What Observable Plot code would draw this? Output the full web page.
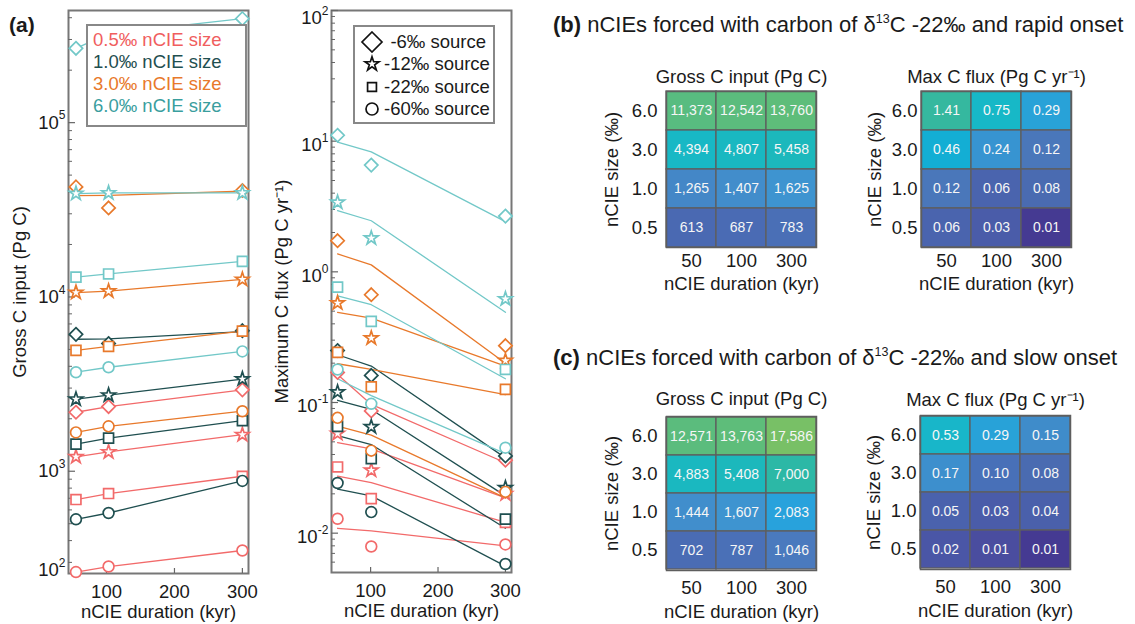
<!DOCTYPE html>
<html><head><meta charset="utf-8">
<script src="https://cdn.jsdelivr.net/npm/d3@7"></script>
<script src="https://cdn.jsdelivr.net/npm/@observablehq/plot@0.6"></script>
<style>
body{margin:0;background:#fff;}
#root{position:relative;width:1135px;height:624px;overflow:hidden;font-family:"Liberation Sans",Arial,sans-serif;color:#1a1a1a;background:#fff;}
.ptitle{position:absolute;font-size:22px;line-height:26px;white-space:nowrap;}
.ptitle sup{font-size:12.5px;vertical-align:9px;line-height:0;}
</style></head><body><div id="root"></div>
<script>
// ---------- data ----------
const sizeKeys = ["0.5", "1.0", "3.0", "6.0"];
const srcKeys = ["-6", "-12", "-22", "-60"];
const durA = [55, 103, 300];
const durB = [51, 101, 300];
const xTicks = [100, 200, 300];

// Gross C input (Pg C): rows = sources -6, -12, -22, -60; cols = durations
const gross05 = [[2180, 2350, 2930], [1210, 1290, 1620], [688, 745, 936], [264, 284, 351]];
const gross10 = [[6100, 5400, 6400], [2590, 2730, 3380], [1430, 1550, 1950], [530, 576, 880]];
const gross30 = [[42800, 32400, 40800], [10600, 10800, 12600], [4940, 5200, 6370], [1670, 1810, 2210]];
const gross60 = [[267000, 324000, 395000], [39200, 39500, 39500], [13000, 13550, 16000], [3700, 3950, 4870]];
const grossLine05 = [[2180, 2350, 2930], [1210, 1290, 1620], [688, 745, 936], [264, 284, 351]];
const grossLine10 = [[5720, 5750, 6320], [2590, 2730, 3380], [1430, 1550, 1950], [530, 576, 880]];
const grossLine30 = [[38100, 38300, 40400], [10600, 10800, 12600], [4940, 5200, 6370], [1670, 1810, 2210]];
const grossLine60 = [[267000, 324000, 395000], [39200, 39500, 39500], [13000, 13550, 16000], [3700, 3950, 4870]];

// Maximum C flux (Pg C / yr)
const flux05 = [[0.17, 0.0862, 0.0362], [0.0579, 0.0303, 0.020], [0.0321, 0.0184, 0.0121], [0.0129, 0.0079, 0.0082]];
const flux10 = [[0.25, 0.161, 0.039], [0.12, 0.0651, 0.0222], [0.0656, 0.0372, 0.0128], [0.0242, 0.0145, 0.00581]];
const flux30 = [[1.73, 0.668, 0.272], [0.577, 0.311, 0.209], [0.242, 0.132, 0.126], [0.0763, 0.0428, 0.0207]];
const flux60 = [[11.1, 6.56, 2.67], [3.40, 1.81, 0.62], [0.764, 0.418, 0.179], [0.179, 0.0977, 0.0451]];
const fluxLine05 = [[0.164, 0.0967, 0.0346], [0.0493, 0.0442, 0.0186], [0.0273, 0.0244, 0.0121], [0.0109, 0.0104, 0.0080]];
const fluxLine10 = [[0.232, 0.19, 0.0377], [0.104, 0.0884, 0.0193], [0.0559, 0.0477, 0.0109], [0.0217, 0.0193, 0.0056]];
const fluxLine30 = [[1.37, 1.13, 0.20], [0.49, 0.443, 0.19], [0.198, 0.179, 0.115], [0.0659, 0.0563, 0.0186]];
const fluxLine60 = [[9.85, 8.28, 2.42], [2.94, 2.46, 0.49], [0.656, 0.56, 0.152], [0.152, 0.113, 0.0406]];

// axis tick labels
const grossTickVals = [270, 1e3, 1e4, 1e5];
const grossTickExp = ["2", "3", "4", "5"];
const fluxTickVals = [0.01, 0.1, 1, 10, 100];
const fluxTickExp = ["-2", "-1", "0", "1", "2"];

// heatmaps
const durLabels = ["50", "100", "300"];
const sizeLabels = ["6.0", "3.0", "1.0", "0.5"];
const grossRapid = [[11373, 12542, 13760], [4394, 4807, 5458], [1265, 1407, 1625], [613, 687, 783]];
const fluxRapid = [[1.41, 0.75, 0.29], [0.46, 0.24, 0.12], [0.12, 0.06, 0.08], [0.06, 0.03, 0.007]];
const grossSlow = [[12571, 13763, 17586], [4883, 5408, 7000], [1444, 1607, 2083], [702, 787, 1046]];
const fluxSlow = [[0.53, 0.29, 0.15], [0.17, 0.10, 0.08], [0.05, 0.03, 0.04], [0.02, 0.012, 0.007]];

// ---------- styles ----------
const FONT = '"Liberation Sans", Arial, sans-serif';
const sizeColors = ["#f26a6a", "#1f4f50", "#e8792b", "#72c8c8"];
const sizeTextColors = ["#f05e5e", "#1f4f50", "#e8792b", "#3a9e9e"];
const srcSymbols = ["diamond2", "star", "square", "circle"];
const srcR = [6, 4.3, 5.6, 5.4];
const grossStops = [[0, "#4a66b0"], [0.09, "#4a6cb4"], [0.19, "#4a7abe"], [0.24, "#4488c8"], [0.30, "#3e94d0"], [0.365, "#28a2dc"], [0.45, "#16b0d4"], [0.56, "#18b8c4"], [0.61, "#1cb8bc"], [0.675, "#2cb8a6"], [0.8, "#58bc80"], [0.85, "#5ebd7a"], [0.91, "#78c066"], [1, "#90c45a"]];
const fluxStops = [[0, "#433890"], [0.06, "#453a92"], [0.14, "#4a4ea0"], [0.22, "#4a56a6"], [0.3, "#4a5eaa"], [0.39, "#4a64ae"], [0.44, "#4a6cb2"], [0.47, "#4870b8"], [0.5, "#4a78ba"], [0.535, "#3e8ecc"], [0.6, "#3a92d0"], [0.635, "#28a2d8"], [0.7, "#12acd8"], [0.73, "#18b6c8"], [0.78, "#16b8c8"], [0.88, "#34b8a0"], [1, "#5cbc80"]];

function stopsInterp(stops) {
  const s = d3.scaleLinear().domain(stops.map(d => d[0])).range(stops.map(d => d[1])).interpolate(d3.interpolateRgb).clamp(true);
  return t => s(t);
}

function tidy(pts, lines, dur) {
  const rows = [];
  sizeKeys.forEach((s, i) => srcKeys.forEach((src, j) => dur.forEach((d, k) => rows.push({
    size: s, src, key: s + "|" + src, dur: d, v: pts[i][j][k], lv: lines[i][j][k]
  }))));
  return rows;
}

function minorTicks(lo, hi) {
  const out = [];
  for (let e = Math.floor(Math.log10(lo)); e <= Math.ceil(Math.log10(hi)); e++)
    for (let m = 2; m <= 9; m++) { const v = m * Math.pow(10, e); if (v > lo && v < hi) out.push(v); }
  return out;
}
function majorTicks(lo, hi) {
  const out = [];
  for (let e = Math.floor(Math.log10(lo)); e <= Math.ceil(Math.log10(hi)); e++) { const v = Math.pow(10, e); if (v >= lo && v <= hi) out.push(v); }
  return out;
}
// approximate width of exponent text at 12px
const expWidth = s => [...s].reduce((a, c) => a + (c === "-" ? 4.2 : 6.7), 0);

function linePlot(o) {
  const innerW = o.w - o.ml - o.mr, innerH = o.h - o.mt - o.mb;
  return Plot.plot({
    width: o.w, height: o.h, marginLeft: o.ml, marginRight: o.mr, marginTop: o.mt, marginBottom: o.mb,
    style: {fontSize: "18.5px", fontFamily: FONT, background: "transparent", overflow: "visible", color: "#1a1a1a"},
    x: {domain: o.xDomain, ticks: xTicks, tickSize: 0, tickPadding: 11, label: null, tickFormat: d => String(d)},
    y: {type: "log", domain: o.yDomain, axis: null},
    color: {domain: sizeKeys, range: sizeColors},
    marks: [
      Plot.frame({stroke: "#777", strokeWidth: 2}),
      Plot.tickY(minorTicks(o.yDomain[0], o.yDomain[1]), {y: d => d, stroke: "#666", strokeWidth: 1, insetRight: innerW - 4}),
      Plot.tickY(majorTicks(o.yDomain[0], o.yDomain[1]), {y: d => d, stroke: "#666", strokeWidth: 1.2, insetRight: innerW - 7}),
      Plot.tickX(xTicks, {x: d => d, stroke: "#666", strokeWidth: 1.2, insetTop: innerH - 5}),
      ...o.tickVals.map((v, i) => Plot.text([v], {y: d => d, text: () => "10", frameAnchor: "left", textAnchor: "end", lineAnchor: "middle",
        dx: o.expEnd - expWidth(o.tickExp[i]), dy: o.labDy + (i === o.tickVals.length - 1 ? o.topExtra : 0)})),
      ...o.tickVals.map((v, i) => Plot.text([v], {y: d => d, text: () => o.tickExp[i], frameAnchor: "left", textAnchor: "end", lineAnchor: "middle",
        dx: o.expEnd, dy: o.labDy - 7 + (i === o.tickVals.length - 1 ? o.topExtra : 0), fontSize: 12})),
      Plot.text([o.ylabel], {frameAnchor: "left", textAnchor: "middle", lineAnchor: "middle", rotate: -90, dx: o.ylabDx}),
      Plot.text(["nCIE duration (kyr)"], {frameAnchor: "bottom", textAnchor: "middle", lineAnchor: "middle", dy: 39}),
      Plot.line(o.rows, {x: "dur", y: "lv", z: "key", stroke: "size", strokeWidth: 1.3}),
      ...srcKeys.map((src, j) => Plot.dot(o.rows, {
        filter: d => d.src === src, x: "dur", y: "v", stroke: "size", fill: "white",
        symbol: srcSymbols[j], r: srcR[j], strokeWidth: 1.7
      }))
    ]
  });
}

function heatmap(o) {
  const rows = sizeLabels.flatMap((s, i) => durLabels.map((d, k) => ({size: s, dur: d, v: o.vals[i][k]})));
  return Plot.plot({
    width: 250, height: 40 + o.ch + 50, marginLeft: 80, marginRight: 20, marginTop: 40, marginBottom: 50,
    style: {fontSize: "18.5px", fontFamily: FONT, background: "transparent", overflow: "visible", color: "#1a1a1a"},
    x: {domain: durLabels, padding: 0, tickSize: 0, tickPadding: o.xPad, label: null},
    y: {domain: sizeLabels, padding: 0, tickSize: 0, tickPadding: o.yPad, label: null},
    color: o.color,
    marks: [
      Plot.cell(rows, {x: "dur", y: "size", fill: "v", stroke: "#5e5e5e", strokeWidth: 1.3, inset: 0}),
      Plot.frame({stroke: "#5e5e5e", strokeWidth: 1.5}),
      Plot.text(rows, {x: "dur", y: "size", text: d => o.fmt(d.v), fill: "#f6f6f6", fontSize: 14}),
      Plot.text([o.title], {frameAnchor: "top", textAnchor: "middle", lineAnchor: "middle", dy: o.titleDy}),
      Plot.text(["nCIE duration (kyr)"], {frameAnchor: "bottom", textAnchor: "middle", lineAnchor: "middle", dy: o.xlabDy}),
      Plot.text(["nCIE size (‰)"], {frameAnchor: "left", textAnchor: "middle", lineAnchor: "middle", rotate: -90, dx: o.ylabDx})
    ]
  });
}

const root = document.getElementById("root");
function place(el, left, top) { el.style.position = "absolute"; el.style.left = left + "px"; el.style.top = top + "px"; root.appendChild(el); return el; }

// panel (a) plots
place(linePlot({
  rows: tidy([gross05, gross10, gross30, gross60], [grossLine05, grossLine10, grossLine30, grossLine60], durA),
  w: 262, h: 624, ml: 68, mr: 14, mt: 10, mb: 51,
  xDomain: [44, 309], yDomain: [259, 4.4e5],
  tickVals: grossTickVals, tickExp: grossTickExp, expEnd: -3, labDy: 0, topExtra: 0,
  ylabel: "Gross C input (Pg C)", ylabDx: -48
}), 0, 0);

place(linePlot({
  rows: tidy([flux05, flux10, flux30, flux60], [fluxLine05, fluxLine10, fluxLine30, fluxLine60], durB),
  w: 262, h: 624, ml: 69, mr: 13, mt: 10, mb: 52,
  xDomain: [42, 309], yDomain: [0.005, 100],
  tickVals: fluxTickVals, tickExp: fluxTickExp, expEnd: -3, labDy: 4, topExtra: 4,
  ylabel: "Maximum C flux (Pg C yr⁻¹)", ylabDx: -49
}), 262, 0);

// (a) label
const aLab = document.createElement("div");
aLab.innerHTML = "<b>(a)</b>"; aLab.style.fontSize = "21px"; aLab.style.lineHeight = "26px";
place(aLab, 9, 12);

// legend for sizes
const leg1 = document.createElement("div");
Object.assign(leg1.style, {border: "2px solid #888", background: "#fff", padding: "3px 0 0 5px", boxSizing: "content-box", fontSize: "18.5px", lineHeight: "22px", height: "96px", width: "152px"});
sizeKeys.forEach((s, i) => {
  const r = document.createElement("div");
  r.textContent = s + "‰ nCIE size"; r.style.color = sizeTextColors[i]; r.style.whiteSpace = "nowrap";
  leg1.appendChild(r);
});
place(leg1, 86, 24);

// legend for sources
const d3Syms = [d3.symbolDiamond2, d3.symbolStar, d3.symbolSquare, d3.symbolCircle];
const legR = [9, 4.4, 5, 6];
const leg2 = document.createElement("div");
Object.assign(leg2.style, {width: "138px", border: "2px solid #888", background: "#fff", fontSize: "18.5px", lineHeight: "22.3px", paddingTop: "4px", boxSizing: "content-box", height: "91px"});
srcKeys.forEach((src, j) => {
  const r = document.createElement("div");
  Object.assign(r.style, {display: "flex", alignItems: "center", height: "22.3px"});
  const svg = d3.create("svg").attr("width", 24).attr("height", 22).style("flex", "none").style("margin-left", "5px");
  svg.append("path").attr("d", d3.symbol(d3Syms[j], Math.PI * legR[j] * legR[j])()).attr("transform", "translate(12,11)")
    .attr("fill", "none").attr("stroke", "#111").attr("stroke-width", 1.7);
  r.appendChild(svg.node());
  const t = document.createElement("span");
  t.textContent = src + "‰ source"; Object.assign(t.style, {flex: "1", textAlign: "right", paddingRight: "7px", whiteSpace: "nowrap"});
  r.appendChild(t);
  leg2.appendChild(r);
});
place(leg2, 353, 25);

// panel titles
const tb = document.createElement("div"); tb.className = "ptitle";
tb.innerHTML = "<b>(b)</b> nCIEs forced with carbon of δ<sup>13</sup>C -22‰ and rapid onset";
place(tb, 553, 12);
const tc = document.createElement("div"); tc.className = "ptitle";
tc.innerHTML = "<b>(c)</b> nCIEs forced with carbon of δ<sup>13</sup>C -22‰ and slow onset";
place(tc, 553, 345);

// heatmaps
const grossColor = {type: "log", domain: [500, 25000], interpolate: stopsInterp(grossStops)};
const fluxColor = {type: "log", domain: [0.005, 3], interpolate: stopsInterp(fluxStops)};
const fmtGross = d3.format(",");
const fmtFlux = d => d.toFixed(2);

place(heatmap({vals: grossRapid, fmt: fmtGross, color: grossColor, title: "Gross C input (Pg C)", ch: 156,
  xPad: 6, yPad: 9, titleDy: -14, xlabDy: 37, ylabDx: -54}), 586, 51);
place(heatmap({vals: fluxRapid, fmt: fmtFlux, color: fluxColor, title: "Max C flux (Pg C yr⁻¹)", ch: 156,
  xPad: 6, yPad: 4, titleDy: -14, xlabDy: 37, ylabDx: -46}), 841, 51);
place(heatmap({vals: grossSlow, fmt: fmtGross, color: grossColor, title: "Gross C input (Pg C)", ch: 154,
  xPad: 10, yPad: 9, titleDy: -17, xlabDy: 42, ylabDx: -54}), 586, 376);
place(heatmap({vals: fluxSlow, fmt: fmtFlux, color: fluxColor, title: "Max C flux (Pg C yr⁻¹)", ch: 154,
  xPad: 10, yPad: 4, titleDy: -15, xlabDy: 42, ylabDx: -46}), 840, 375);
</script></body></html>
